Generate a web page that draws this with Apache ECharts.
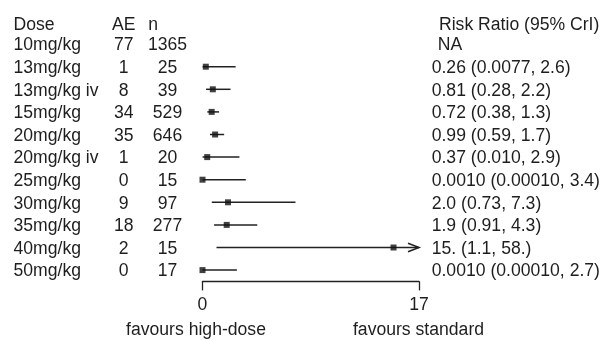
<!DOCTYPE html>
<html>
<head>
<meta charset="utf-8">
<script src="https://cdn.jsdelivr.net/npm/echarts@6/dist/echarts.min.js"></script>
<style>
html,body{margin:0;padding:0;background:#fff;}
#chart{width:608px;height:341px;}
</style>
</head>
<body>
<div id="chart"></div>
<script>
// ---- data ----
const doses = ['10mg/kg','13mg/kg','13mg/kg iv','15mg/kg','20mg/kg','20mg/kg iv','25mg/kg','30mg/kg','35mg/kg','40mg/kg','50mg/kg'];
const aeCounts = [77, 1, 8, 34, 35, 1, 0, 9, 18, 2, 0];
const nCounts = [1365, 25, 39, 529, 646, 20, 15, 97, 277, 15, 17];
const rrEst  = [null, 0.26, 0.81, 0.72, 0.99, 0.37, 0.0010, 2.0, 1.9, 15, 0.0010];
const rrLow  = [null, 0.0077, 0.28, 0.38, 0.59, 0.010, 0.00010, 0.73, 0.91, 1.1, 0.00010];
const rrHigh = [null, 2.6, 2.2, 1.3, 1.7, 2.9, 3.4, 7.3, 4.3, 58, 2.7];
const rrText = ['NA','0.26 (0.0077, 2.6)','0.81 (0.28, 2.2)','0.72 (0.38, 1.3)','0.99 (0.59, 1.7)','0.37 (0.010, 2.9)','0.0010 (0.00010, 3.4)','2.0 (0.73, 7.3)','1.9 (0.91, 4.3)','15. (1.1, 58.)','0.0010 (0.00010, 2.7)'];
const xMin = 0, xMax = 17;
const colHeaders = ['Dose', 'AE', 'n', 'Risk Ratio (95% CrI)'];
const footers = ['favours high-dose', 'favours standard'];

// ---- styles ----
const FONT = 'Liberation Sans';
const FS = 17.6;
const TXT = '#1e1e1e';
const LINE = '#222';

const chart = echarts.init(document.getElementById('chart'), null, {renderer: 'canvas'});

const gridLeft = 202.5, gridRight = 189, gridTop = 32.8, gridBottom = 341 - 281.4;
const HDR_Y = 25.5;

function catAxis(position, formatter, align, margin, rich) {
  return {
    type: 'category', data: doses, inverse: true, position: position, offset: 0,
    axisLine: {show: false}, axisTick: {show: false}, splitLine: {show: false},
    axisLabel: {
      show: true, interval: 0, formatter: formatter, align: align, margin: margin,
      fontFamily: FONT, fontSize: FS, color: TXT, padding: [3, 0, 0, 0], rich: rich || {}
    }
  };
}

const ciData = [];
const ptData = [];
doses.forEach((d, i) => {
  if (rrEst[i] != null) {
    ciData.push([rrLow[i], rrHigh[i], i]);
    ptData.push([rrEst[i], i]);
  }
});

function hdr(text, x, y, align) {
  return {type: 'text', x: x, y: y, style: {text: text, font: FS + 'px "' + FONT + '"', fill: TXT, align: align || 'left', verticalAlign: 'middle'}};
}

const option = {
  animation: false,
  backgroundColor: '#fff',
  textStyle: {fontFamily: FONT},
  grid: {left: gridLeft, right: gridRight, top: gridTop, bottom: gridBottom, containLabel: false, outerBoundsMode: 'none'},
  xAxis: {
    type: 'value', min: xMin, max: xMax, interval: xMax - xMin,
    axisLine: {show: true, onZero: false, lineStyle: {color: LINE, width: 1.3}},
    axisTick: {show: true, length: 9, lineStyle: {color: LINE, width: 1.3}},
    splitLine: {show: false},
    axisLabel: {fontFamily: FONT, fontSize: FS, color: TXT, margin: 15}
  },
  yAxis: [
    catAxis('left', (v, i) => doses[i], 'left', gridLeft - 13.5),
    catAxis('left', (v, i) => String(aeCounts[i]), 'center', gridLeft - 123.7),
    catAxis('left', (v, i) => String(nCounts[i]), 'center', gridLeft - 167.5),
    catAxis('right', (v, i) => rrEst[i] == null ? '{na|' + rrText[i] + '}' : rrText[i], 'left', 12.7,
      {na: {fontFamily: FONT, fontSize: FS, color: TXT, padding: [0, 0, 0, 6]}})
  ],
  graphic: [
    hdr(colHeaders[0], 13.5, HDR_Y),
    hdr(colHeaders[1], 112, HDR_Y),
    hdr(colHeaders[2], 148.3, HDR_Y),
    hdr(colHeaders[3], 439, HDR_Y),
    hdr(footers[0], 196, 330.5, 'center'),
    hdr(footers[1], 418.5, 330.5, 'center')
  ],
  series: [
    {
      type: 'custom', clip: false, xAxisIndex: 0, yAxisIndex: 0,
      encode: {x: [0, 1], y: 2},
      data: ciData,
      renderItem: function (params, api) {
        const lo = api.value(0), hi = api.value(1), cat = api.value(2);
        const p1 = api.coord([lo, cat]);
        const p2 = api.coord([Math.min(hi, xMax), cat]);
        const style = {stroke: LINE, lineWidth: 1.5, fill: null};
        const children = [{type: 'line', shape: {x1: p1[0], y1: p1[1], x2: p2[0], y2: p2[1]}, style: style}];
        if (hi > xMax) {
          children.push({type: 'polyline', shape: {points: [[p2[0] - 11, p2[1] - 4.2], [p2[0], p2[1]], [p2[0] - 11, p2[1] + 4.2]]}, style: style});
        }
        return {type: 'group', children: children};
      }
    },
    {
      type: 'scatter', clip: false, xAxisIndex: 0, yAxisIndex: 0,
      symbol: 'rect', symbolSize: 6,
      itemStyle: {color: '#111'},
      data: ptData
    }
  ]
};
chart.setOption(option);
</script>
</body>
</html>
